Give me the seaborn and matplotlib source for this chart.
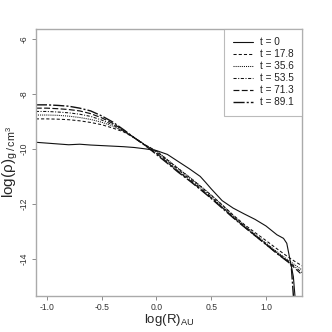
import numpy as np
import pandas as pd
import matplotlib
matplotlib.use("Agg")
import matplotlib.pyplot as plt
import seaborn as sns

# ---------------- data ----------------
labels = ["t = 0", "t = 17.8", "t = 35.6", "t = 53.5", "t = 71.3", "t = 89.1"]

x_t0 = [-1.1, -1.0, -0.9, -0.8, -0.7, -0.6, -0.5, -0.4, -0.3, -0.2, -0.1, 0.0,
        0.1, 0.2, 0.3, 0.4, 0.45, 0.5, 0.6, 0.7, 0.8, 0.9, 1.0, 1.1, 1.16, 1.19,
        1.22, 1.25, 1.27]
y_t0 = [-9.76, -9.79, -9.82, -9.85, -9.83, -9.86, -9.88, -9.90, -9.92, -9.95,
        -10.0, -10.06, -10.2, -10.46, -10.72, -11.0, -11.22, -11.45, -11.88,
        -12.15, -12.36, -12.56, -12.8, -13.12, -13.25, -13.43, -14.04, -14.64,
        -15.6]

x_main = [-1.1, -1.0, -0.9, -0.8, -0.7, -0.6, -0.5, -0.4, -0.3, -0.2, -0.1, 0.0,
          0.1, 0.2, 0.3, 0.4, 0.5, 0.6, 0.7, 0.8, 0.9, 1.0, 1.1, 1.2, 1.26, 1.33]

y_t178 = [-8.91, -8.91, -8.92, -8.94, -8.98, -9.04, -9.12, -9.24, -9.38, -9.6,
          -9.86, -10.08, -10.4, -10.72, -11.03, -11.35, -11.68, -12.03, -12.4,
          -12.74, -13.04, -13.33, -13.63, -13.92, -14.08, -14.25]
y_t356 = [-8.77, -8.77, -8.78, -8.81, -8.86, -8.93, -9.03, -9.17, -9.36, -9.6,
          -9.86, -10.07, -10.39, -10.71, -11.02, -11.34, -11.68, -12.04, -12.42,
          -12.77, -13.1, -13.42, -13.74, -14.03, -14.2, -14.4]
y_t535 = [-8.64, -8.64, -8.66, -8.69, -8.74, -8.82, -8.95, -9.12, -9.34, -9.6,
          -9.87, -10.12, -10.44, -10.77, -11.08, -11.4, -11.74, -12.1, -12.46,
          -12.8, -13.13, -13.45, -13.77, -14.07, -14.27, -14.5]
y_t713 = [-8.52, -8.52, -8.54, -8.57, -8.62, -8.72, -8.87, -9.07, -9.32, -9.6,
          -9.88, -10.16, -10.49, -10.82, -11.13, -11.45, -11.78, -12.13, -12.48,
          -12.82, -13.15, -13.47, -13.79, -14.09, -14.32, -14.58]

x_t891 = [-1.1, -1.0, -0.9, -0.8, -0.7, -0.6, -0.5, -0.4, -0.3, -0.2, -0.1, 0.0,
          0.1, 0.2, 0.3, 0.4, 0.5, 0.6, 0.7, 0.8, 0.9, 1.0, 1.1, 1.2, 1.23, 1.255]
y_t891 = [-8.40, -8.40, -8.42, -8.45, -8.52, -8.62, -8.80, -9.02, -9.30, -9.6,
          -9.88, -10.2, -10.52, -10.85, -11.15, -11.47, -11.8, -12.15, -12.5,
          -12.83, -13.15, -13.47, -13.8, -14.1, -14.2, -15.6]

x_ticks = [-1.0, -0.5, 0.0, 0.5, 1.0]
x_ticklabels = ["-1.0", "-0.5", "0.0", "0.5", "1.0"]
y_ticks = [-6, -8, -10, -12, -14]
y_ticklabels = ["-6", "-8", "-10", "-12", "-14"]

series = [
    (labels[0], x_t0, y_t0),
    (labels[1], x_main, y_t178),
    (labels[2], x_main, y_t356),
    (labels[3], x_main, y_t535),
    (labels[4], x_main, y_t713),
    (labels[5], x_t891, y_t891),
]

styles = {
    "t = 0": dict(linestyle="-", lw=0.8),
    "t = 17.8": dict(linestyle=(0, (3, 2)), lw=0.75),
    "t = 35.6": dict(linestyle=(0, (1, 1)), lw=0.75),
    "t = 53.5": dict(linestyle=(0, (3, 1.5, 1, 1.5)), lw=0.75),
    "t = 71.3": dict(linestyle=(0, (5, 2)), lw=0.85),
    "t = 89.1": dict(linestyle=(0, (8, 1.5, 1.5, 1.5)), lw=1.0),
}

# ---------------- plotting ----------------
sns.set_style("white")
plt.rcParams["font.family"] = ["Liberation Sans", "DejaVu Sans"]
plt.rcParams["mathtext.fontset"] = "custom"
plt.rcParams["mathtext.rm"] = "Liberation Sans"

fig = plt.figure(figsize=(3.32, 3.32), dpi=100)
ax = fig.add_axes([0.108, 0.108, 0.802, 0.805])

for name, xs, ys in series:
    df = pd.DataFrame({"x": xs, "y": ys})
    sns.lineplot(data=df, x="x", y="y", ax=ax, color="#111111", label=name,
                 sort=False, estimator=None, **styles[name])

ax.set_xlim(-1.1, 1.33)
ax.set_ylim(-15.35, -5.64)
ax.set_xticks(x_ticks)
ax.set_xticklabels(x_ticklabels)
ax.set_yticks(y_ticks)
ax.set_yticklabels(y_ticklabels, rotation=90, va="center")

ax.tick_params(axis="both", which="both", direction="out", length=3, width=0.6,
               color="#777777", labelsize=6.2, labelcolor="#333333", pad=2,
               bottom=True, left=True)

for sp in ax.spines.values():
    sp.set_color("#aaaaaa")
    sp.set_linewidth(1.0)

ax.set_xlabel(r"log(R)$_{\mathregular{AU}}$", fontsize=9.5, labelpad=0)
ax.set_ylabel(r"log($\mathregular{\rho}$)$_{\mathregular{g\,/\,cm^3}}$",
              fontsize=11, labelpad=0)

leg = ax.legend(loc="upper right", fontsize=7.2, frameon=True, fancybox=False,
                borderaxespad=0, handlelength=2.0, handletextpad=0.7,
                labelspacing=0.2, borderpad=0.85)
leg.get_frame().set_edgecolor("#aaaaaa")
leg.get_frame().set_linewidth(0.8)
for t in leg.get_texts():
    t.set_color("#222222")

fig.savefig("out.png", dpi=100)
